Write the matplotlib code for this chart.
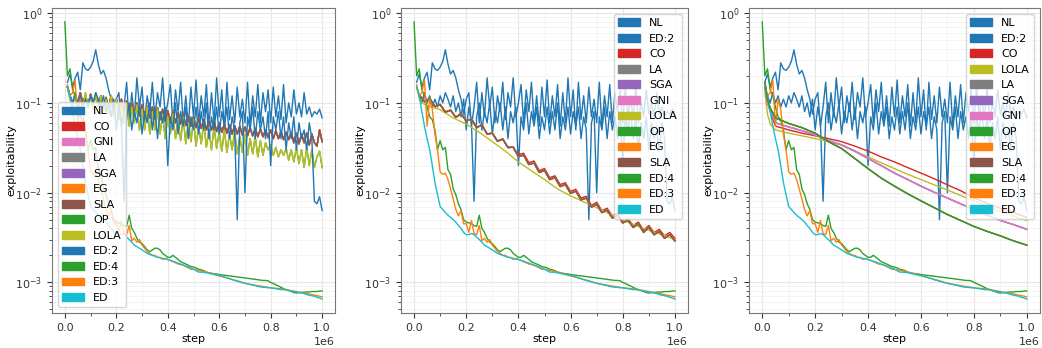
"""Exploitability vs. step for three game settings (log scale)."""

import matplotlib
matplotlib.use("Agg")
import matplotlib.pyplot as plt
import numpy as np
from matplotlib.patches import Patch
from matplotlib.ticker import AutoMinorLocator

# x grids (the first logged step is 1e4; only ED:4 carries the step-0 value)
steps = np.arange(10_000, 1_000_001, 10_000)       # 100 points
steps0 = np.arange(0, 1_000_001, 10_000)           # 101 points
steps_zz = np.arange(20_000, 1_000_001, 20_000)    # 50 points
steps_smooth = np.array([10_000, 20_000, 30_000] + list(range(50_000, 1_000_001, 50_000)))

# shared by all three panels
nl = [0.17, 0.21, 0.15, 0.19, 0.22, 0.14, 0.28, 0.24, 0.23,
      0.25, 0.29, 0.39, 0.27, 0.21, 0.23, 0.19, 0.14, 0.11, 0.075,
      0.11, 0.13, 0.055, 0.09, 0.17, 0.06, 0.13, 0.07, 0.19, 0.09,
      0.15, 0.06, 0.12, 0.08, 0.17, 0.065, 0.13, 0.09, 0.19, 0.07,
      0.1, 0.16, 0.06, 0.14, 0.08, 0.17, 0.06, 0.12, 0.055, 0.15,
      0.07, 0.18, 0.06, 0.12, 0.07, 0.16, 0.055, 0.13, 0.06, 0.19,
      0.07, 0.14, 0.05, 0.17, 0.065, 0.12, 0.06, 0.15, 0.07, 0.11,
      0.06, 0.17, 0.055, 0.12, 0.07, 0.16, 0.06, 0.13, 0.08, 0.14,
      0.06, 0.15, 0.07, 0.12, 0.065, 0.16, 0.06, 0.1, 0.07, 0.14,
      0.075, 0.1, 0.07, 0.13, 0.075, 0.09, 0.07, 0.08, 0.075, 0.085,
      0.068]
ed2 = [0.15, 0.12, 0.1, 0.13, 0.1, 0.12, 0.09, 0.11, 0.09,
       0.12, 0.1, 0.13, 0.11, 0.09, 0.12, 0.08, 0.1, 0.07, 0.11,
       0.05, 0.09, 0.06, 0.008, 0.07, 0.1, 0.05, 0.08, 0.06, 0.1,
       0.045, 0.08, 0.06, 0.1, 0.05, 0.09, 0.04, 0.08, 0.06, 0.09,
       0.02, 0.07, 0.05, 0.1, 0.045, 0.08, 0.055, 0.09, 0.04, 0.07,
       0.05, 0.09, 0.045, 0.08, 0.05, 0.1, 0.04, 0.07, 0.05, 0.09,
       0.045, 0.08, 0.055, 0.09, 0.04, 0.07, 0.05, 0.005, 0.06, 0.08,
       0.01, 0.07, 0.05, 0.09, 0.04, 0.08, 0.05, 0.07, 0.04, 0.08,
       0.02, 0.07, 0.05, 0.08, 0.04, 0.07, 0.03, 0.06, 0.04, 0.07,
       0.03, 0.06, 0.04, 0.05, 0.03, 0.06, 0.04, 0.008, 0.0075, 0.009,
       0.0063]
ed = [0.15, 0.12, 0.08, 0.055, 0.04, 0.03, 0.02, 0.013, 0.0095,
      0.007, 0.0065, 0.006, 0.0056, 0.0053, 0.005, 0.0047, 0.0043, 0.004, 0.0036,
      0.0034, 0.0034, 0.0035, 0.0034, 0.0032, 0.003, 0.0028, 0.0026, 0.0025, 0.0024,
      0.0023, 0.0022, 0.0021, 0.00205, 0.002, 0.00195, 0.0019, 0.00188, 0.00185, 0.00182,
      0.0018, 0.00176, 0.00172, 0.00168, 0.00164, 0.0016, 0.00156, 0.00152, 0.00148, 0.00144,
      0.0014, 0.00135, 0.0013, 0.0013, 0.00129, 0.00128, 0.00126, 0.00124, 0.00122, 0.00121,
      0.0012, 0.00117, 0.00115, 0.00112, 0.0011, 0.00107, 0.00105, 0.00103, 0.00101, 0.00099,
      0.00098, 0.00096, 0.00095, 0.00093, 0.00092, 0.0009, 0.00089, 0.00088, 0.00088, 0.00087,
      0.00087, 0.00086, 0.00085, 0.00084, 0.00083, 0.00083, 0.00082, 0.00081, 0.0008, 0.00079,
      0.00078, 0.00077, 0.00076, 0.00075, 0.00073, 0.00072, 0.00071, 0.0007, 0.00068, 0.00067,
      0.00065]
ed3 = [0.16, 0.12, 0.13, 0.18, 0.055, 0.11, 0.085, 0.045, 0.03,
       0.017, 0.016, 0.0165, 0.014, 0.011, 0.0085, 0.0065, 0.0055, 0.0063, 0.0045,
       0.0045, 0.0036, 0.0049, 0.0035, 0.0034, 0.0043, 0.0029, 0.0031, 0.0028, 0.003,
       0.0026, 0.0024, 0.0022, 0.0021, 0.002, 0.002, 0.0019, 0.0019, 0.0018, 0.00185,
       0.0018, 0.00175, 0.0017, 0.00165, 0.0016, 0.00158, 0.00155, 0.0015, 0.00145, 0.0014,
       0.0014, 0.00138, 0.00136, 0.00134, 0.00132, 0.0013, 0.00128, 0.00126, 0.00124, 0.0012,
       0.00118, 0.00116, 0.00114, 0.00112, 0.0011, 0.00108, 0.00106, 0.00104, 0.00102, 0.001,
       0.00098, 0.00096, 0.00095, 0.00094, 0.00093, 0.00092, 0.00091, 0.0009, 0.00089, 0.00088,
       0.00087, 0.00086, 0.00086, 0.00085, 0.00085, 0.00084, 0.00083, 0.00082, 0.00081, 0.0008,
       0.00079, 0.00078, 0.00077, 0.00076, 0.00075, 0.00074, 0.00073, 0.00072, 0.00071, 0.0007,
       0.00069]
ed4 = [0.8, 0.2, 0.24, 0.14, 0.12, 0.09, 0.07, 0.065, 0.05, 0.03,
       0.038, 0.03, 0.032, 0.018, 0.016, 0.011, 0.0095, 0.0075, 0.0065, 0.005,
       0.0047, 0.0046, 0.0045, 0.0043, 0.0042, 0.0056, 0.004, 0.0036, 0.0031, 0.0028,
       0.0027, 0.0025, 0.0023, 0.0022, 0.0023, 0.0024, 0.0024, 0.0023, 0.0021, 0.002,
       0.0019, 0.0019, 0.002, 0.0019, 0.0018, 0.0017, 0.00165, 0.0016, 0.00155, 0.0015,
       0.00148, 0.00145, 0.0014, 0.00138, 0.00135, 0.0013, 0.00128, 0.00126, 0.00125, 0.00124,
       0.00122, 0.00121, 0.0012, 0.00119, 0.00118, 0.00117, 0.00116, 0.00115, 0.00114, 0.00113,
       0.00112, 0.00111, 0.0011, 0.00109, 0.00108, 0.00107, 0.00106, 0.00105, 0.00105, 0.00104,
       0.001, 0.00097, 0.00094, 0.00091, 0.00088, 0.00085, 0.00083, 0.00081, 0.00079, 0.00077,
       0.00076, 0.00077, 0.00077, 0.00078, 0.00078, 0.00078, 0.00079, 0.00079, 0.00079, 0.0008,
       0.0008]

# panel 1: oscillating methods
lola_1 = [0.15, 0.11, 0.09, 0.13, 0.09, 0.12, 0.085, 0.13, 0.09,
          0.12, 0.085, 0.13, 0.08, 0.12, 0.08, 0.11, 0.075, 0.12, 0.07,
          0.11, 0.065, 0.1, 0.06, 0.1, 0.055, 0.09, 0.06, 0.095, 0.05,
          0.085, 0.05, 0.09, 0.045, 0.08, 0.05, 0.085, 0.045, 0.075, 0.04,
          0.07, 0.045, 0.075, 0.04, 0.065, 0.038, 0.07, 0.035, 0.06, 0.037,
          0.065, 0.033, 0.055, 0.035, 0.06, 0.032, 0.05, 0.03, 0.055, 0.031,
          0.048, 0.029, 0.05, 0.028, 0.045, 0.03, 0.048, 0.027, 0.042, 0.028,
          0.045, 0.026, 0.04, 0.027, 0.042, 0.025, 0.038, 0.026, 0.036, 0.03,
          0.034, 0.026, 0.032, 0.025, 0.03, 0.026, 0.031, 0.023, 0.03, 0.022,
          0.032, 0.021, 0.03, 0.019, 0.032, 0.02, 0.03, 0.019, 0.025, 0.029,
          0.019]
sla_1 = [0.15, 0.12, 0.1, 0.12, 0.1, 0.13, 0.1, 0.12, 0.095,
         0.125, 0.1, 0.12, 0.095, 0.12, 0.09, 0.115, 0.09, 0.12, 0.085,
         0.11, 0.085, 0.11, 0.08, 0.105, 0.08, 0.1, 0.075, 0.1, 0.072,
         0.095, 0.07, 0.092, 0.068, 0.09, 0.066, 0.088, 0.065, 0.085, 0.062,
         0.082, 0.06, 0.08, 0.06, 0.078, 0.058, 0.075, 0.056, 0.072, 0.055,
         0.07, 0.053, 0.068, 0.052, 0.066, 0.05, 0.064, 0.05, 0.062, 0.048,
         0.06, 0.047, 0.058, 0.046, 0.057, 0.045, 0.056, 0.045, 0.055, 0.044,
         0.054, 0.043, 0.053, 0.043, 0.052, 0.042, 0.051, 0.042, 0.05, 0.041,
         0.05, 0.04, 0.049, 0.04, 0.048, 0.039, 0.047, 0.039, 0.047, 0.036,
         0.046, 0.035, 0.045, 0.036, 0.046, 0.034, 0.045, 0.036, 0.033, 0.05,
         0.037]

# panel 2: zig-zag group and smooth LOLA
sla_2 = [0.123, 0.103, 0.112, 0.091, 0.096, 0.079, 0.083, 0.069, 0.076,
         0.063, 0.066, 0.053, 0.057, 0.045, 0.046, 0.0374, 0.0396, 0.0318, 0.0321,
         0.0252, 0.0262, 0.0206, 0.0214, 0.0168, 0.0177, 0.014, 0.0147, 0.0117, 0.0123,
         0.0098, 0.0104, 0.0083, 0.0087, 0.0069, 0.0074, 0.006, 0.0064, 0.0052, 0.0056,
         0.0046, 0.0049, 0.0041, 0.0045, 0.0036, 0.0041, 0.0034, 0.0037, 0.0031, 0.0034,
         0.0029]
co_2 = [0.123, 0.103, 0.112, 0.091, 0.096, 0.079, 0.083, 0.069, 0.076,
        0.063, 0.066, 0.053, 0.057, 0.045, 0.046, 0.0374, 0.0396, 0.0318, 0.0321,
        0.0265, 0.0275, 0.0216, 0.0225, 0.0176, 0.0186, 0.0147, 0.0154, 0.0123, 0.0129,
        0.0103, 0.0109, 0.0087, 0.0091, 0.0072, 0.0078, 0.0063, 0.0067, 0.0055, 0.0059,
        0.0048, 0.0051, 0.0043, 0.0047, 0.0038, 0.0043, 0.0036, 0.0039, 0.0033, 0.0036,
        0.0031]
lola_2 = [0.15, 0.11, 0.1, 0.093, 0.084, 0.068, 0.058, 0.047, 0.037, 0.029, 0.022,
          0.0175, 0.014, 0.011, 0.0092, 0.0079, 0.0068, 0.0058, 0.005, 0.0043, 0.0038,
          0.0034, 0.003]

# panel 3: smooth curves
co_3 = [0.15, 0.1, 0.08, 0.055, 0.05, 0.046, 0.043, 0.04, 0.037, 0.033, 0.029,
        0.025, 0.022, 0.019, 0.0165, 0.0143, 0.0122, 0.0105, 0.0088, 0.0076, 0.0067,
        0.006, 0.0053]
lola_3 = [0.13, 0.075, 0.058, 0.05, 0.046, 0.043, 0.04, 0.037, 0.034, 0.029, 0.025,
          0.0215, 0.0185, 0.016, 0.014, 0.0122, 0.0107, 0.0093, 0.0081, 0.0071, 0.0062,
          0.0055, 0.0049]
la_3 = [0.15, 0.1, 0.085, 0.06, 0.054, 0.049, 0.044, 0.038, 0.034, 0.029, 0.024,
        0.02, 0.0165, 0.014, 0.0118, 0.0101, 0.0087, 0.0075, 0.0065, 0.0056, 0.0049,
        0.0044, 0.0039]
op_3 = [0.17, 0.11, 0.088, 0.068, 0.059, 0.053, 0.046, 0.037, 0.031, 0.024, 0.0185,
        0.0145, 0.0118, 0.0097, 0.0081, 0.0068, 0.0057, 0.0049, 0.0042, 0.0037, 0.0033,
        0.0029, 0.0026]

COLORS = {
    "NL": "#1f77b4", "ED:2": "#1f77b4", "CO": "#d62728", "GNI": "#e377c2",
    "LA": "#7f7f7f", "SGA": "#9467bd", "EG": "#ff7f0e", "SLA": "#8c564b",
    "OP": "#2ca02c", "LOLA": "#bcbd22", "ED:4": "#2ca02c", "ED:3": "#ff7f0e",
    "ED": "#17becf",
}

panels = [
    ([("NL", steps, nl), ("CO", steps, sla_1), ("GNI", steps, sla_1), ("LA", steps, sla_1),
      ("SGA", steps, sla_1), ("EG", steps, sla_1), ("SLA", steps, sla_1), ("OP", steps, lola_1),
      ("LOLA", steps, lola_1), ("ED:2", steps, ed2), ("ED:4", steps0, ed4), ("ED:3", steps, ed3),
      ("ED", steps, ed)], "lower left", ()),
    ([("NL", steps, nl), ("ED:2", steps, ed2), ("CO", steps_zz, co_2), ("LA", steps_zz, sla_2),
      ("SGA", steps_zz, sla_2), ("GNI", steps_zz, sla_2), ("LOLA", steps_smooth, lola_2),
      ("OP", steps_zz, sla_2), ("EG", steps_zz, sla_2), ("SLA", steps_zz, sla_2),
      ("ED:4", steps0, ed4), ("ED:3", steps, ed3), ("ED", steps, ed)], "upper right", ()),
    ([("NL", steps, nl), ("ED:2", steps, ed2), ("CO", steps_smooth, co_3),
      ("LOLA", steps_smooth, lola_3), ("LA", steps_smooth, la_3), ("SGA", steps_smooth, la_3),
      ("GNI", steps_smooth, la_3), ("OP", steps_smooth, op_3), ("EG", steps_smooth, op_3),
      ("SLA", steps_smooth, op_3), ("ED:4", steps0, ed4), ("ED:3", steps, ed3),
      ("ED", steps, ed)], "upper right", ("OP",)),
]

plt.rcParams["font.size"] = 8
fig = plt.figure(figsize=(10.42, 3.48), dpi=100)
boxes = [(52, 283), (401, 287), (749, 291)]

for (series, loc, on_top), (left, width) in zip(panels, boxes):
    ax = fig.add_axes([left / 1042, 35 / 348, width / 1042, 305 / 348])
    for label, x, y in series:
        z = 2.05 if label in on_top else 2
        ax.plot(x, y, color=COLORS[label], linewidth=1.0, zorder=z)
    ax.set_yscale("log")
    ax.set_xlabel("step", labelpad=1)
    ax.set_ylabel("exploitability", labelpad=-1)
    ax.xaxis.set_minor_locator(AutoMinorLocator(2))
    ax.grid(True, which="major", color="#e6e6e6", linewidth=0.8)
    ax.grid(True, which="minor", color="#f2f2f2", linewidth=0.6)
    ax.set_axisbelow(True)
    for sp in ax.spines.values():
        sp.set_color("#777777")
    ax.tick_params(colors="#333333", which="both")
    handles = [Patch(facecolor=COLORS[l], edgecolor=COLORS[l], label=l) for l, _, _ in series]
    ax.legend(handles=handles, loc=loc, fontsize=8)

fig.savefig("out.png", dpi=100)
